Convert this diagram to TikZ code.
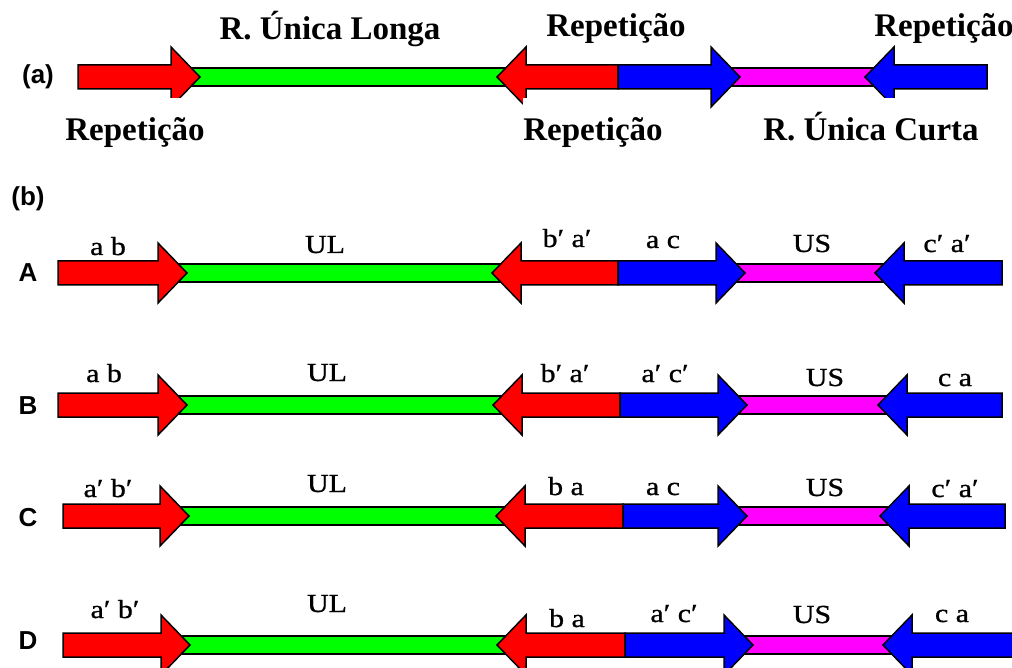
\documentclass[tikz,border=0pt]{standalone}
\usepackage{fontspec}
\setmainfont{Liberation Serif}
\newfontfamily\labfont[FakeStretch=1.15,FakeBold=0.9]{Liberation Serif}
\newfontfamily\sansbold{Liberation Sans}
\newcommand\hdl{29}
\newcommand\hdw{30}
\newcommand\bdw{12}
\newcommand\brw{9}
% #1 yc, #2 x0, #3 tip1, #4 tip2, #5 mid, #6 tip3, #7 tip4, #8 xend
\newcommand\genome[8]{%
  \draw[outl, fill=gbar] (#3-\hdl, #1-\brw) rectangle (#4+\hdl, #1+\brw);
  \draw[outl, fill=mbar] (#6-\hdl, #1-\brw) rectangle (#7+\hdl, #1+\brw);
  \draw[outl, fill=rep1] (#2, #1-\bdw) -- (#3-\hdl, #1-\bdw) -- (#3-\hdl, #1-\hdw) -- (#3, #1)
     -- (#3-\hdl, #1+\hdw) -- (#3-\hdl, #1+\bdw) -- (#2, #1+\bdw) -- cycle;
  \draw[outl, fill=rep1] (#4, #1) -- (#4+\hdl, #1-\hdw) -- (#4+\hdl, #1-\bdw) -- (#5, #1-\bdw)
     -- (#5, #1+\bdw) -- (#4+\hdl, #1+\bdw) -- (#4+\hdl, #1+\hdw) -- cycle;
  \draw[outl, fill=rep2] (#5, #1-\bdw) -- (#6-\hdl, #1-\bdw) -- (#6-\hdl, #1-\hdw) -- (#6, #1)
     -- (#6-\hdl, #1+\hdw) -- (#6-\hdl, #1+\bdw) -- (#5, #1+\bdw) -- cycle;
  \draw[outl, fill=rep2] (#7, #1) -- (#7+\hdl, #1-\hdw) -- (#7+\hdl, #1-\bdw) -- (#8, #1-\bdw)
     -- (#8, #1+\bdw) -- (#7+\hdl, #1+\bdw) -- (#7+\hdl, #1+\hdw) -- cycle;
}
\begin{document}
\begin{tikzpicture}[x=1pt, y=-1pt,
  outl/.style={draw=black, line width=1.5pt, line join=miter},
  bigtxt/.style={font=\fontsize{33}{36}\selectfont\bfseries, inner sep=0pt, anchor=base},
  bigmask/.style={bigtxt, fill=white, text height=43pt, text depth=10pt},
  seglab/.style={font=\labfont\fontsize{26}{28}\selectfont, inner sep=0pt, anchor=base},
  rowlab/.style={font=\sansbold\fontsize{26}{28}\selectfont\bfseries, inner sep=0pt, anchor=center}]
\definecolor{rep1}{RGB}{255,0,0}
\definecolor{rep2}{RGB}{0,0,255}
\definecolor{gbar}{RGB}{0,255,0}
\definecolor{mbar}{RGB}{255,0,255}
\useasboundingbox (0,0) rectangle (1012,668);
\begin{scope}
\clip (0,0) rectangle (1012,668);
% (a)
\genome{77}{78}{200}{497}{618}{740}{865}{987}
% (b)
\genome{273}{58}{187}{492}{618}{745}{875}{1002}
\genome{405}{58}{187}{493}{620}{747}{878}{1002}
\genome{516}{63}{189}{496}{623}{747}{880}{1005}
\genome{645}{63}{190}{497}{625}{753}{883}{1030}
\end{scope}
% part (a) texts
\node[rowlab] (pa) at (38,77) {(a)};
\node[bigtxt] (ul) at (330,40) {R. Única Longa};
\node[bigtxt] (r1) at (616,37) {Repetição};
\node[bigtxt] (r2) at (944,37) {Repetição};
\node[bigmask] (r3) at (135,141) {Repetição};
\node[bigmask] (r4) at (593,141) {Repetição};
\node[bigmask] (us) at (871,141) {R. Única Curta};
% part (b)
\node[rowlab] (pb) at (28,199) {(b)};
\node[rowlab] (rA) at (28,273) {A};
\node[rowlab] (rB) at (28,406) {B};
\node[rowlab] (rC) at (28,518) {C};
\node[rowlab] (rD) at (28,641) {D};
% row A
\node[seglab] (a1) at (108,255) {a b};
\node[seglab] (a2) at (325,253) {UL};
\node[seglab] (a3) at (567,247) {b′ a′};
\node[seglab] (a4) at (663,248) {a c};
\node[seglab] (a5) at (812,252) {US};
\node[seglab] (a6) at (947,252) {c′ a′};
% row B
\node[seglab] (b1) at (104,382) {a b};
\node[seglab] (b2) at (327,381) {UL};
\node[seglab] (b3) at (565,382) {b′ a′};
\node[seglab] (b4) at (665,382) {a′ c′};
\node[seglab] (b5) at (825,386) {US};
\node[seglab] (b6) at (955,386) {c a};
% row C
\node[seglab] (c1) at (108,497) {a′ b′};
\node[seglab] (c2) at (327,492) {UL};
\node[seglab] (c3) at (566,495) {b a};
\node[seglab] (c4) at (663,495) {a c};
\node[seglab] (c5) at (825,496) {US};
\node[seglab] (c6) at (955,497) {c′ a′};
% row D
\node[seglab] (d1) at (115,618) {a′ b′};
\node[seglab] (d2) at (327,612) {UL};
\node[seglab] (d3) at (567,627) {b a};
\node[seglab] (d4) at (674,622) {a′ c′};
\node[seglab] (d5) at (812,623) {US};
\node[seglab] (d6) at (952,622) {c a};
\end{tikzpicture}
\end{document}
